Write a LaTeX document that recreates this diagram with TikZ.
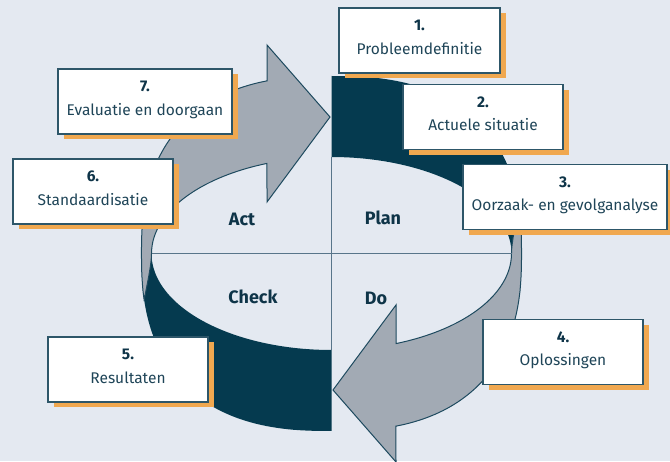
\documentclass[tikz,border=0pt]{standalone}
\usepackage{fontspec}
\setmainfont{Fira Sans}
\usetikzlibrary{shadows}

\definecolor{bg}{HTML}{E4E9F1}
\definecolor{ringdark}{HTML}{053A4F}
\definecolor{arrowgray}{HTML}{A2AAB4}
\definecolor{arrowedge}{HTML}{1E4A5F}
\definecolor{boxedge}{HTML}{2D5669}
\definecolor{shade}{HTML}{F0A850}
\definecolor{axisline}{HTML}{58758A}
\definecolor{txt}{HTML}{1F4558}
\definecolor{numtxt}{HTML}{0E3448}

\tikzset{
  stepbox/.style={draw=boxedge, line width=1.1pt, fill=white,
    minimum height=65pt, inner sep=0pt,
    general shadow={fill=shade, shadow xshift=5.5pt, shadow yshift=-5.5pt}},
  stepnum/.style={text=numtxt, inner sep=0pt, font=\fontsize{15.5}{18}\selectfont\bfseries},
  steptext/.style={text=txt, inner sep=0pt, font=\fontsize{15.5}{18}\selectfont},
  phase/.style={text=numtxt, inner sep=0pt, font=\fontsize{18}{20}\selectfont\bfseries},
  ringpart/.style={fill=ringdark},
  arrowpart/.style={fill=arrowgray, draw=arrowedge, line width=1pt, line join=miter},
  axis/.style={draw=axisline, line width=1.1pt}
}

% numbered card: name, centre, width, number, text
\newcommand\stepcard[5]{%
  \node[stepbox, minimum width=#3] (#1) at #2 {};
  \node[stepnum, anchor=base] (#1-n) at ([yshift=-23.5pt]#1.north) {#4};
  \node[steptext, anchor=base] (#1-t) at ([yshift=-47pt]#1.north) {#5};
}

\begin{document}
\begin{tikzpicture}[x=1pt,y=1pt,
  declare function={
    sx(\t)=331.5+190*sign(cos(\t))*pow(abs(cos(\t))+0.00001,0.8);
    sy(\t)=207.5+177.5*sign(sin(\t))*pow(abs(sin(\t))+0.00001,0.8);
    ex(\s)=331.5+180*cos(\s);
    ey(\s)=207.5+96.5*sin(\s);
  }]
  \clip (0,0) rectangle (670,461);
  \fill[bg] (0,0) rectangle (670,461);

  % dark quarter rings (Plan and Check)
  \fill[ringpart] plot[domain=90:0, samples=60] ({sx(\x)},{sy(\x)})
     -- plot[domain=0:90, samples=60] ({ex(\x)},{ey(\x)}) -- cycle;
  \begin{scope}[rotate around={180:(331.5,207.5)}]
    \fill[ringpart] plot[domain=90:0, samples=60] ({sx(\x)},{sy(\x)})
       -- plot[domain=0:90, samples=60] ({ex(\x)},{ey(\x)}) -- cycle;
  \end{scope}

  % grey curved arrows (Act and Do)
  \filldraw[arrowpart] plot[domain=190.8:105, samples=60] ({sx(\x)},{sy(\x)})
     -- (267,416) -- (330,344) -- (267,259)
     -- plot[domain=111:180, samples=40] ({ex(\x)},{ey(\x)})
     .. controls (151.5,195) and (146,172) .. (144.2,161) -- cycle;
  \begin{scope}[rotate around={180:(331.5,207.5)}]
    \filldraw[arrowpart] plot[domain=190.8:105, samples=60] ({sx(\x)},{sy(\x)})
       -- (267,416) -- (330,344) -- (267,259)
       -- plot[domain=111:180, samples=40] ({ex(\x)},{ey(\x)})
       .. controls (151.5,195) and (146,172) .. (144.2,161) -- cycle;
  \end{scope}

  % quadrant axes
  \coordinate (axW) at (151.5,207.5);
  \coordinate (axE) at (511.5,207.5);
  \coordinate (axN) at (331.5,304);
  \coordinate (axS) at (331.5,111);
  \draw[axis] (axW) -- (axE);
  \draw[axis] (axN) -- (axS);

  % phase names
  \node[phase] (plan)  at (383,243) {Plan};
  \node[phase] (act)   at (242,242) {Act};
  \node[phase] (check) at (253,164) {Check};
  \node[phase] (do)    at (376,163) {Do};

  % numbered steps
  \stepcard{s1}{(419.5,420.5)}{161pt}{1.}{Probleemdefinitie}
  \stepcard{s2}{(483,344)}{160pt}{2.}{Actuele situatie}
  \stepcard{s3}{(565,264)}{204pt}{3.}{Oorzaak- en gevolganalyse}
  \stepcard{s4}{(563,109)}{160pt}{4.}{Oplossingen}
  \stepcard{s5}{(128,91.5)}{160pt}{5.}{Resultaten}
  \stepcard{s6}{(93,269.5)}{160pt}{6.}{Standaardisatie}
  \stepcard{s7}{(145,359.5)}{174pt}{7.}{Evaluatie en doorgaan}
\end{tikzpicture}
\end{document}
